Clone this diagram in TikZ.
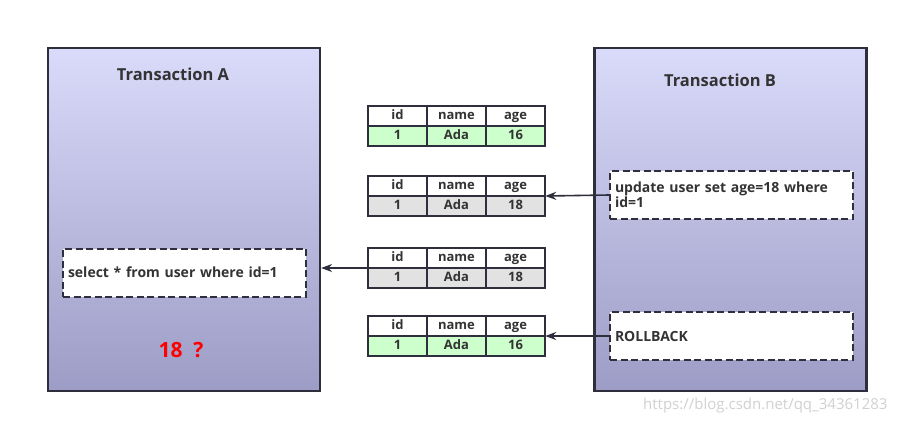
\documentclass[tikz,border=0pt]{standalone}
\usepackage{fontspec}
\setmainfont{Open Sans}
\usetikzlibrary{arrows.meta}
\definecolor{boxtop}{HTML}{DADAFA}
\definecolor{boxbot}{HTML}{9C9CC6}
\definecolor{frame}{HTML}{2E2E3C}
\definecolor{rowgreen}{HTML}{CCFFCC}
\definecolor{rowgray}{HTML}{E2E2E2}
\tikzset{
  trans/.style={draw=frame, line width=2.2pt, top color=boxtop, bottom color=boxbot,
    minimum width=272pt, minimum height=343pt, inner sep=0pt},
  stmt/.style={draw=frame, line width=2pt, dash pattern=on 7pt off 3.5pt, fill=white,
    minimum width=243pt, minimum height=48pt, inner sep=5pt, font=\bfseries\fontsize{14}{17}\selectfont,
    text=black!80, align=left},
  cell/.style={draw=frame, line width=1.6pt, minimum width=59pt, minimum height=20pt,
    inner sep=0pt, text height=9.5pt, text depth=2.5pt,
    font=\bfseries\fontsize{13}{15}\selectfont, text=black!80},
  tab/.style={minimum width=177pt, minimum height=40pt, inner sep=0pt},
  flow/.style={-{Stealth[length=11pt,width=8pt]}, line width=1.6pt, draw=frame}
}
\begin{document}
\begin{tikzpicture}[x=1pt,y=-1pt]
\useasboundingbox[fill=white] (0,0) rectangle (899,424);
% the two transactions
\node[trans] (trA) at (184,219.5) {};
\node[trans] (trB) at (730.5,219.5) {};
\node[font=\bfseries\fontsize{16.5}{19}\selectfont, text=black!80] (titA) at (173,74) {Transaction A};
\node[font=\bfseries\fontsize{16.5}{19}\selectfont, text=black!80] (titB) at (720,80) {Transaction B};
% statements
\node[stmt, text width=233pt] (sel) at (184.5,272.5) {select * from user where id=1};
\node[stmt, text width=233pt] (upd) at (731.5,195) {update user set age=18 where\\[-2pt]id=1};
\node[stmt, text width=233pt] (rb) at (731.5,336) {ROLLBACK};
\node[font=\bfseries\fontsize{21}{25}\selectfont, text=red] (res) at (181,350) {18\ \ ?};
% table versions
\foreach \n/\y/\c/\v in {1/126/rowgreen/16, 2/196/rowgray/18, 3/268/rowgray/18, 4/336/rowgreen/16} {
  \node[tab] (tab\n) at (456.5,\y) {};
  \node[cell, fill=white] (id\n) at (397.5,\y-10) {id};
  \node[cell, fill=white] (nm\n) at (456.5,\y-10) {name};
  \node[cell, fill=white] (ag\n) at (515.5,\y-10) {age};
  \node[cell, fill=\c] (idv\n) at (397.5,\y+10) {1};
  \node[cell, fill=\c] (nmv\n) at (456.5,\y+10) {Ada};
  \node[cell, fill=\c] (agv\n) at (515.5,\y+10) {\v};
}
% connectors
\draw[flow] (upd.west) -- (tab2.east);
\draw[flow] (tab3.west) -- (tab3.west -| trA.east);
\draw[flow] (rb.west) -- (tab4.east);
\node[font=\fontsize{15}{18}\selectfont, text=black!18, anchor=east] (mark) at (891,406) {https://blog.csdn.net/qq\_34361283};
\end{tikzpicture}
\end{document}
